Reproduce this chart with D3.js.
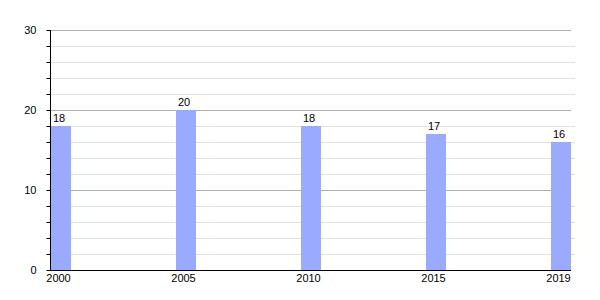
<!DOCTYPE html>
<html>
<head>
<meta charset="utf-8">
<script src="https://cdn.jsdelivr.net/npm/d3@7"></script>
<style>
  body { margin: 0; background: #fff; }
  text { font-family: "Liberation Sans", Arial, sans-serif; font-size: 11px; fill: #000; }
</style>
</head>
<body>
<div id="chart"></div>
<script>
// data
var years = ["2000", "2005", "2010", "2015", "2019"];
var values = [18, 20, 18, 17, 16];
var majorTicks = [0, 10, 20, 30];
var minorTicks = [2, 4, 6, 8, 12, 14, 16, 18, 22, 24, 26, 28];

var width = 600, height = 300;
var margin = {top: 30, left: 50, right: 29, bottom: 30};
var barWidth = 20;

var svg = d3.select('#chart')
    .append('svg')
    .attr('width', width)
    .attr('height', height);

var plotRight = width - margin.right;
var plotBottom = height - margin.bottom;

var x = d3.scalePoint()
    .domain(years)
    .range([margin.left + 1, plotRight - barWidth]);

var y = d3.scaleLinear()
    .domain([0, 30])
    .range([plotBottom, margin.top]);

// minor grid lines
svg.selectAll('.minor')
    .data(minorTicks)
    .enter().append('line')
    .attr('class', 'minor')
    .attr('x1', margin.left)
    .attr('x2', plotRight + 4)
    .attr('y1', function(d) { return y(d) + 0.5; })
    .attr('y2', function(d) { return y(d) + 0.5; })
    .attr('stroke', '#e2e2e2');

// major grid lines
svg.selectAll('.major')
    .data(majorTicks.slice(1))
    .enter().append('line')
    .attr('class', 'major')
    .attr('x1', margin.left)
    .attr('x2', plotRight)
    .attr('y1', function(d) { return y(d) + 0.5; })
    .attr('y2', function(d) { return y(d) + 0.5; })
    .attr('stroke', '#b0b0b0');

// bars
svg.selectAll('.bar')
    .data(values)
    .enter().append('rect')
    .attr('class', 'bar')
    .attr('x', function(d, i) { return x(years[i]); })
    .attr('y', function(d) { return y(d); })
    .attr('width', barWidth)
    .attr('height', function(d) { return plotBottom - y(d); })
    .attr('fill', '#99aaff');

// value labels
svg.selectAll('.val')
    .data(values)
    .enter().append('text')
    .attr('class', 'val')
    .attr('text-anchor', 'middle')
    .attr('x', function(d, i) { return x(years[i]) + barWidth / 2 - 2; })
    .attr('y', function(d) { return y(d) - 4; })
    .text(function(d) { return d; });

// y axis (major)
var yAxis = d3.axisLeft(y).tickValues(majorTicks).tickSize(4).tickPadding(10);
var gy = svg.append('g')
    .attr('transform', 'translate(' + (margin.left + 0.5) + ',0)')
    .call(yAxis);
gy.select('.domain').attr('stroke', '#000').attr('d', 'M0,' + margin.top + 'V' + plotBottom);
gy.selectAll('.tick text').style('font-size', '11px').style('font-family', '"Liberation Sans", Arial, sans-serif');

// y axis minor ticks
svg.append('g')
    .attr('transform', 'translate(' + (margin.left + 0.5) + ',0)')
    .call(d3.axisLeft(y).tickValues(minorTicks).tickSize(4).tickFormat(''))
    .select('.domain').remove();

// x axis
var xAxis = d3.axisBottom(x).tickSize(0).tickPadding(4);
var gx = svg.append('g')
    .attr('transform', 'translate(' + (barWidth / 2 - 3) + ',' + (plotBottom + 0.5) + ')')
    .call(xAxis);
gx.select('.domain').remove();
gx.selectAll('.tick text').style('font-size', '11px').style('font-family', '"Liberation Sans", Arial, sans-serif');

svg.append('line')
    .attr('x1', margin.left)
    .attr('x2', plotRight)
    .attr('y1', plotBottom + 0.5)
    .attr('y2', plotBottom + 0.5)
    .attr('stroke', '#000');
</script>
</body>
</html>
